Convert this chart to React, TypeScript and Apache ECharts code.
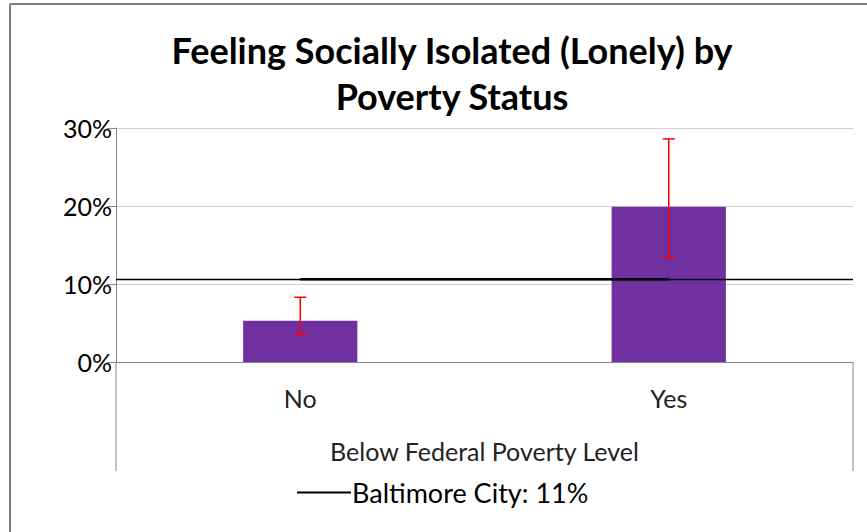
import React, { useEffect, useRef } from "react";
import * as echarts from "echarts";

const categories = ["No", "Yes"];
const values = [5.3, 19.9];
const errLow = [3.5, 13.4];
const errHigh = [8.3, 28.6];
const baltimore = [10.6, 10.6];
const baltimoreLabel = "Baltimore City: 11%";
const titleLines = ["Feeling Socially Isolated (Lonely) by", "Poverty Status"];
const xAxisTitle = "Below Federal Poverty Level";

export default function App() {
  const ref = useRef<HTMLDivElement>(null);
  useEffect(() => {
    if (!ref.current) return;
    const chart = echarts.init(ref.current, null, { renderer: "svg" });
    const gridLeft = 116;
    const gridRight = 14;
    const gridTop = 128;
    const gridBottom = 170;
    const W = 867;
    const H = 532;
    const axisY = H - gridBottom;
    const errData = categories.map((c, i) => [i, errLow[i], errHigh[i]]);
    const titleStyle = { fontFamily: "Lato", fontWeight: "bold", fontSize: 36, color: "#000" };
    chart.setOption({
      animation: false,
      backgroundColor: "#ffffff",
      title: [
        { text: titleLines[0], left: 447, top: 27, textAlign: "center", textStyle: titleStyle },
        { text: titleLines[1], left: 447, top: 73, textAlign: "center", textStyle: titleStyle },
      ],
      legend: {
        left: 297,
        top: 479,
        padding: 0,
        icon: "rect",
        itemWidth: 54,
        itemHeight: 2,
        itemGap: 4,
        data: [{ name: baltimoreLabel }],
        textStyle: { fontFamily: "Lato", fontSize: 27, color: "#000", padding: [0, 0, 0, -4] },
      },
      grid: { left: gridLeft, right: gridRight, top: gridTop, bottom: gridBottom, containLabel: false },
      xAxis: {
        type: "category",
        data: categories,
        boundaryGap: true,
        name: xAxisTitle,
        nameLocation: "middle",
        nameGap: 76,
        nameTextStyle: { fontFamily: "Lato", fontSize: 25, color: "#222" },
        axisLine: { lineStyle: { color: "#868686", width: 1 } },
        axisTick: { show: false },
        axisLabel: { fontFamily: "Lato", fontSize: 25, color: "#222", margin: 23 },
        splitLine: { show: false },
      },
      yAxis: {
        type: "value",
        min: 0,
        max: 30,
        interval: 10,
        axisLine: { show: true, lineStyle: { color: "#868686", width: 1 } },
        axisTick: { show: true, length: 9, lineStyle: { color: "#868686" } },
        axisLabel: {
          fontFamily: "Lato",
          fontSize: 25,
          color: "#000",
          margin: 4,
          formatter: (v: number) => v + "%",
        },
        splitLine: { show: true, lineStyle: { color: "#d0d0d0", width: 1 } },
      },
      series: [
        {
          name: "Value",
          type: "bar",
          data: values,
          barWidth: "31%",
          itemStyle: { color: "#7030a0" },
          z: 2,
        },
        {
          name: "Error",
          type: "custom",
          data: errData,
          z: 5,
          renderItem: (params: any, api: any) => {
            const x = api.value(0);
            const lo = api.coord([x, api.value(1)]);
            const hi = api.coord([x, api.value(2)]);
            const half = 6;
            const style = { stroke: "#ff0000", lineWidth: 1.5 };
            return {
              type: "group",
              children: [
                { type: "line", shape: { x1: lo[0], y1: lo[1], x2: hi[0], y2: hi[1] }, style },
                { type: "line", shape: { x1: lo[0] - half, y1: lo[1], x2: lo[0] + half, y2: lo[1] }, style },
                { type: "line", shape: { x1: hi[0] - half, y1: hi[1], x2: hi[0] + half, y2: hi[1] }, style },
              ],
            };
          },
        },
        {
          name: baltimoreLabel,
          type: "line",
          data: baltimore,
          symbol: "none",
          showSymbol: false,
          lineStyle: { color: "#000", width: 2.5 },
          itemStyle: { color: "#000" },
          z: 4,
          markLine: {
            silent: true,
            symbol: "none",
            label: { show: false },
            lineStyle: { color: "#000", width: 1.3, type: "solid" },
            data: [{ yAxis: baltimore[0] }],
          },
        },
      ],
      graphic: [
        { type: "line", shape: { x1: 10, y1: 4, x2: W, y2: 4 }, style: { stroke: "#7f7f7f", lineWidth: 2 } },
        { type: "line", shape: { x1: 10, y1: 4, x2: 10, y2: H }, style: { stroke: "#7f7f7f", lineWidth: 2 } },
        {
          type: "line",
          shape: { x1: gridLeft, y1: axisY, x2: gridLeft, y2: 471 },
          style: { stroke: "#868686", lineWidth: 1 },
        },
        {
          type: "line",
          shape: { x1: W - gridRight, y1: axisY, x2: W - gridRight, y2: 471 },
          style: { stroke: "#868686", lineWidth: 1 },
        },
      ],
    });
    return () => chart.dispose();
  }, []);
  return (
    <div
      ref={ref}
      style={{ position: "fixed", left: 0, top: 0, width: 867, height: 532, background: "#fff" }}
    />
  );
}
